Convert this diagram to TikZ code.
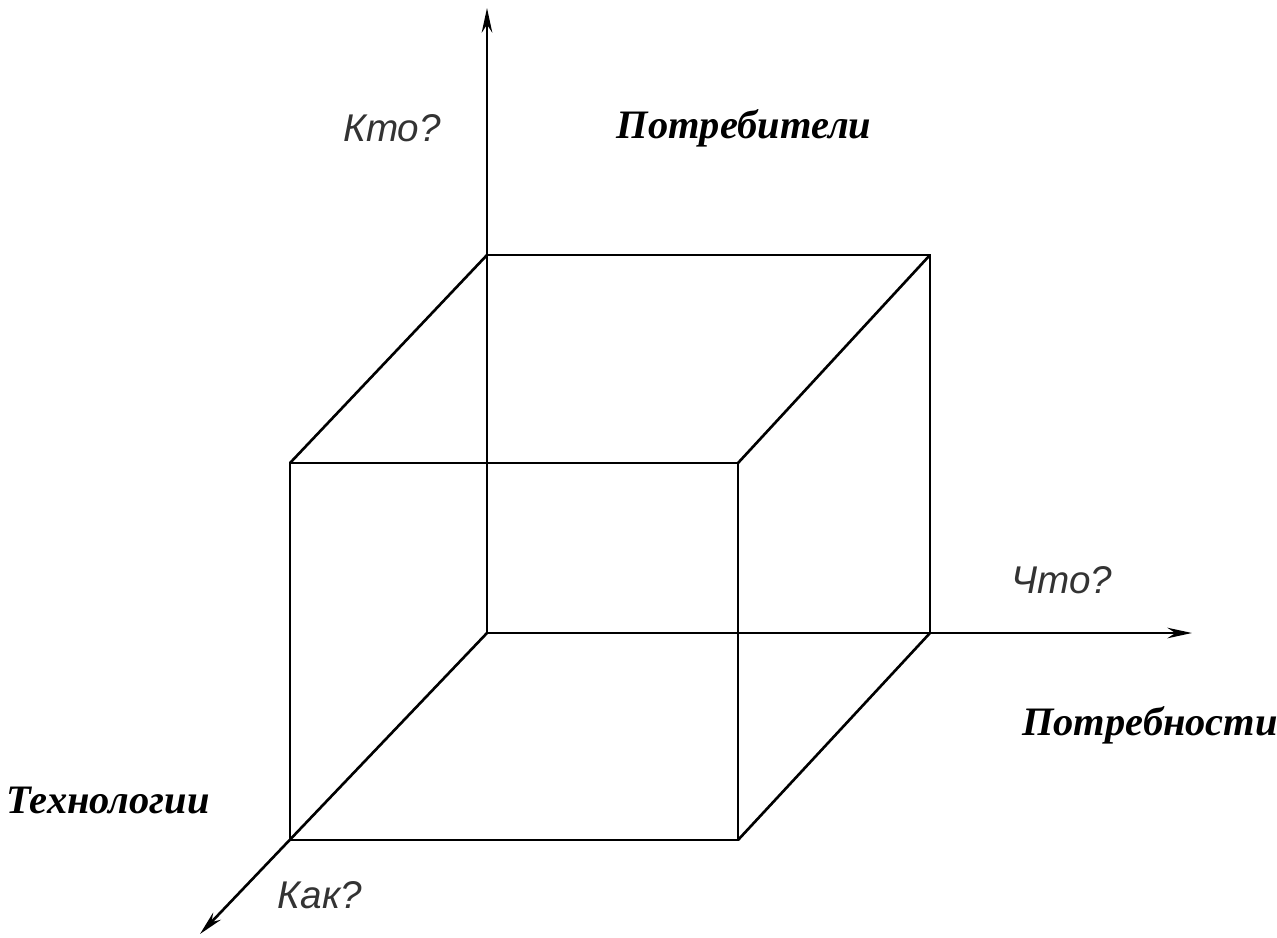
\documentclass[tikz,border=0pt]{standalone}
\usepackage{fontspec}
\setmainfont{Liberation Serif}
\setsansfont{Liberation Sans}
\usetikzlibrary{arrows.meta}

\begin{document}
\begin{tikzpicture}[x=0.02cm,y=-0.02cm,>=Stealth,line width=1.5pt,
  ask/.style={font=\sffamily\itshape\fontsize{22}{26}\selectfont,text=black!80},
  term/.style={font=\bfseries\itshape\fontsize{23}{27}\selectfont}]
\useasboundingbox (0,0) rectangle (1277,937);
% back face
\coordinate (b1) at (487,255);
\coordinate (b2) at (930,255);
\coordinate (b3) at (930,633);
\coordinate (b4) at (487,633);
% front face
\coordinate (f1) at (290,463);
\coordinate (f2) at (738,463);
\coordinate (f3) at (738,840);
\coordinate (f4) at (290,840);
% axis ends
\coordinate (top) at (487,8);
\coordinate (right) at (1192,633);
\coordinate (down) at (200,934);
\draw[-{Stealth[length=14pt,width=6pt]}](b4)--(top);
\draw[-{Stealth[length=14pt,width=6pt]}](b4)--(right);
\draw[-{Stealth[length=14pt,width=6pt]}](b4)--(down);
\draw(b1)--(b2)--(b3)(b1)--(b4);
\draw(f1)--(f2)--(f3)--(f4)--cycle;
\draw(b1)--(f1)(b2)--(f2)(b3)--(f3);
\node[ask](kto) at (392,128){Кто?};
\node[ask](chto) at (1062,580){Что?};
\node[ask](kak) at (320,895){Как?};
\node[term](cons) at (744,128){Потребители};
\node[term](need) at (1150,725){Потребности};
\node[term](tech) at (108,800){Технологии};
\end{tikzpicture}
\end{document}
